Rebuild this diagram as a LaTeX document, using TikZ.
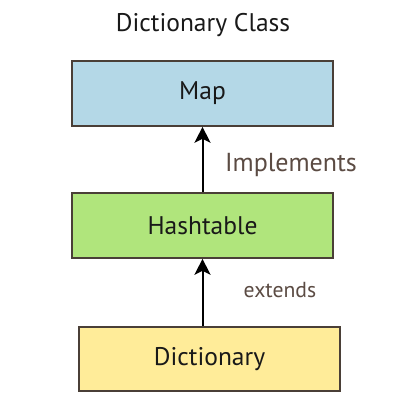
\documentclass[tikz,border=0pt]{standalone}
\usepackage{fontspec}
\setmainfont{PT Sans}
\usetikzlibrary{arrows.meta}
\definecolor{mapblue}{HTML}{B4D8E7}
\definecolor{hashgreen}{HTML}{B0E57C}
\definecolor{dictyellow}{HTML}{FFEC99}
\definecolor{edgebrown}{HTML}{4A3F37}
\definecolor{labelbrown}{HTML}{5B4B43}
\tikzset{
  classbox/.style={draw=edgebrown, line width=1.6pt, minimum width=261pt, minimum height=65pt, inner sep=0pt, font=\fontsize{25.5}{30}\selectfont, text=black!90},
  relarrow/.style={line width=2pt, -{Stealth[length=16pt, width=16pt, inset=4pt]}},
  rellabel/.style={text=labelbrown}
}
\begin{document}
\begin{tikzpicture}[x=1pt,y=1pt]
\useasboundingbox (0,0) rectangle (400,400);
\fill[white] (0,0) rectangle (400,400);
\node[font=\fontsize{25.5}{30}\selectfont, text=black!90] (title) at (203,375) {Dictionary Class};
\node[classbox, fill=mapblue] (map) at (202.5,306.5) {Map};
\node[classbox, fill=hashgreen] (hash) at (202.5,174.5) {Hashtable};
\node[classbox, fill=dictyellow, minimum height=64pt] (dict) at (209.5,41) {Dictionary};
\draw[relarrow] (hash.north) -- (map.south);
\draw[relarrow] (dict.north -| hash.south) -- (hash.south);
\node[rellabel, font=\fontsize{26}{30}\selectfont] (impl) at (291,235) {Implements};
\node[rellabel, font=\fontsize{21.7}{26}\selectfont] (ext) at (280,110) {extends};
\end{tikzpicture}
\end{document}
